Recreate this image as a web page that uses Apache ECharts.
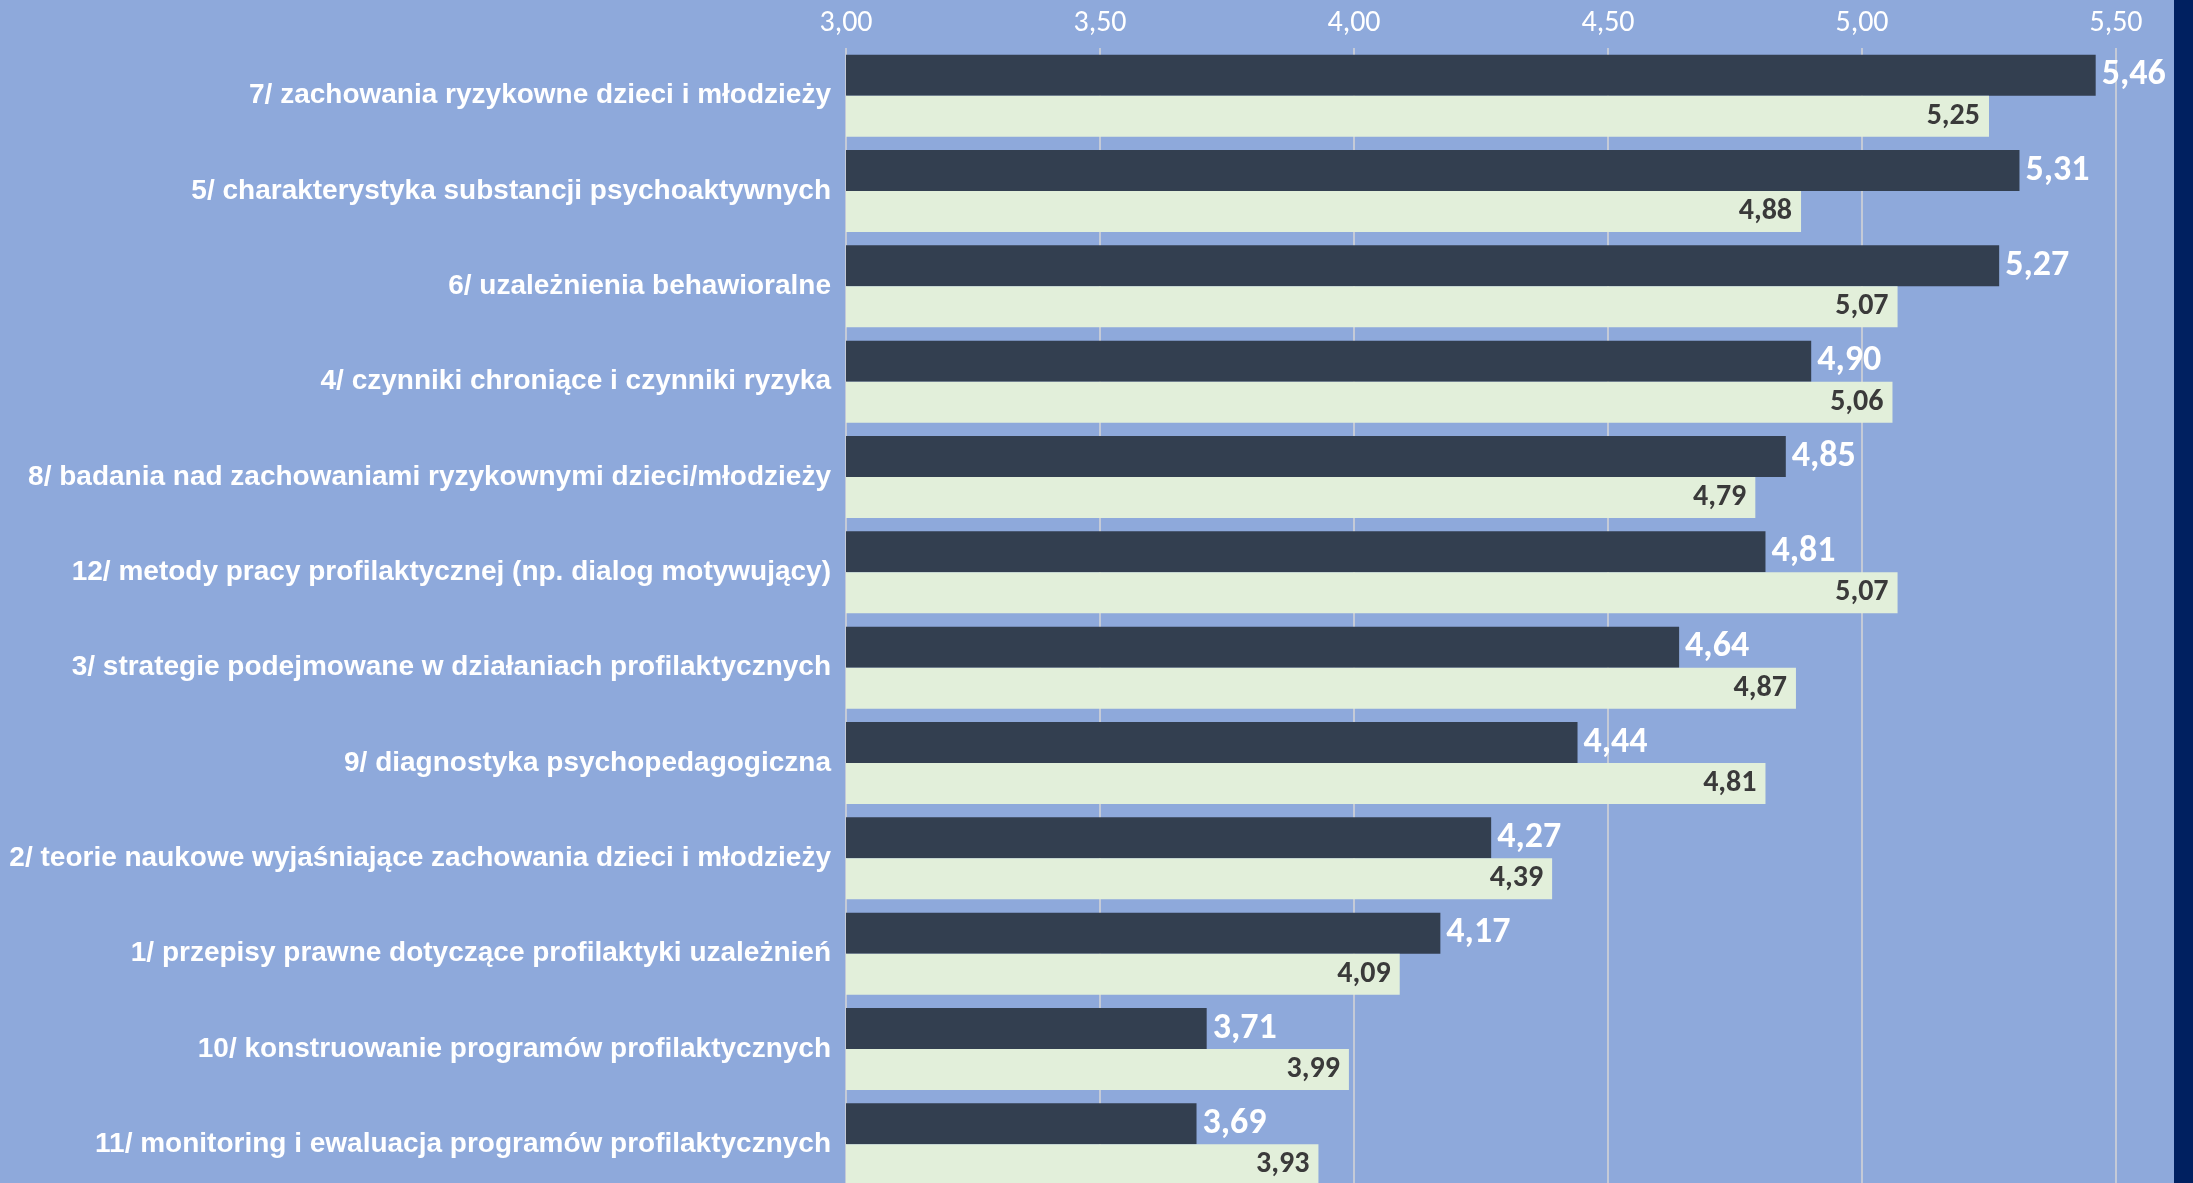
<!DOCTYPE html>
<html>
<head>
<meta charset="utf-8">
<script src="https://cdn.jsdelivr.net/npm/echarts@6/dist/echarts.min.js"></script>
<style>
html,body{margin:0;padding:0;background:#8EA9DB;}
#chart{width:2193px;height:1183px;}
</style>
</head>
<body>
<div id="chart"></div>
<script>
const categories = [
  "7/ zachowania ryzykowne dzieci i młodzieży",
  "5/ charakterystyka substancji psychoaktywnych",
  "6/ uzależnienia behawioralne",
  "4/ czynniki chroniące i czynniki ryzyka",
  "8/ badania nad zachowaniami ryzykownymi dzieci/młodzieży",
  "12/ metody pracy profilaktycznej (np. dialog motywujący)",
  "3/ strategie podejmowane w działaniach profilaktycznych",
  "9/ diagnostyka psychopedagogiczna",
  "2/ teorie naukowe wyjaśniające zachowania dzieci i młodzieży",
  "1/ przepisy prawne dotyczące profilaktyki uzależnień",
  "10/ konstruowanie programów profilaktycznych",
  "11/ monitoring i ewaluacja programów profilaktycznych"
];
const seriesDark = [5.46, 5.31, 5.27, 4.90, 4.85, 4.81, 4.64, 4.44, 4.27, 4.17, 3.71, 3.69];
const seriesLight = [5.25, 4.88, 5.07, 5.06, 4.79, 5.07, 4.87, 4.81, 4.39, 4.09, 3.99, 3.93];
const axisMin = 3.0, axisMax = 5.5, axisStep = 0.5;

const fmt = v => Number(v).toFixed(2).replace('.', ',');
const numFont = "Carlito, 'Open Sans', sans-serif";
const catFont = "'Liberation Sans Narrow', 'Arial Narrow', 'Liberation Sans', Arial, sans-serif";

const chart = echarts.init(document.getElementById('chart'), null, {renderer: 'canvas'});
chart.setOption({
  backgroundColor: '#8EA9DB',
  animation: false,
  grid: {left: 846, right: 77, top: 48, bottom: -9, containLabel: false, outerBoundsMode: 'none'},
  xAxis: {
    type: 'value', position: 'top', min: axisMin, max: axisMax, interval: axisStep,
    axisLine: {show: false}, axisTick: {show: false},
    splitLine: {show: true, lineStyle: {color: '#D6D6D6', width: 1.5}},
    axisLabel: {color: '#FFFFFF', fontFamily: numFont, fontSize: 30, margin: 10, formatter: fmt}
  },
  yAxis: {
    type: 'category', data: categories, inverse: true,
    axisLine: {show: false}, axisTick: {show: false},
    axisLabel: {color: '#FFFFFF', fontFamily: catFont, fontWeight: 'bold', fontSize: 28, margin: 15}
  },
  series: [
    {
      type: 'bar', data: seriesDark, barGap: '0%', barCategoryGap: '14%',
      itemStyle: {color: '#333F50'},
      label: {show: true, position: 'right', distance: 6, color: '#FFFFFF', fontFamily: numFont,
              fontWeight: 'bold', fontSize: 36, formatter: p => fmt(p.value)}
    },
    {
      type: 'bar', data: seriesLight, barGap: '0%', barCategoryGap: '14%',
      itemStyle: {color: '#E2EFDA'},
      label: {show: true, position: 'insideRight', distance: 9, color: '#3A3A3A', fontFamily: numFont,
              fontWeight: 'bold', fontSize: 30, formatter: p => fmt(p.value)}
    }
  ],
  graphic: [{
    type: 'rect', right: 0, top: 0, z: 100,
    shape: {width: 19, height: 1183},
    style: {fill: '#002060'}
  }]
});
</script>
</body>
</html>
